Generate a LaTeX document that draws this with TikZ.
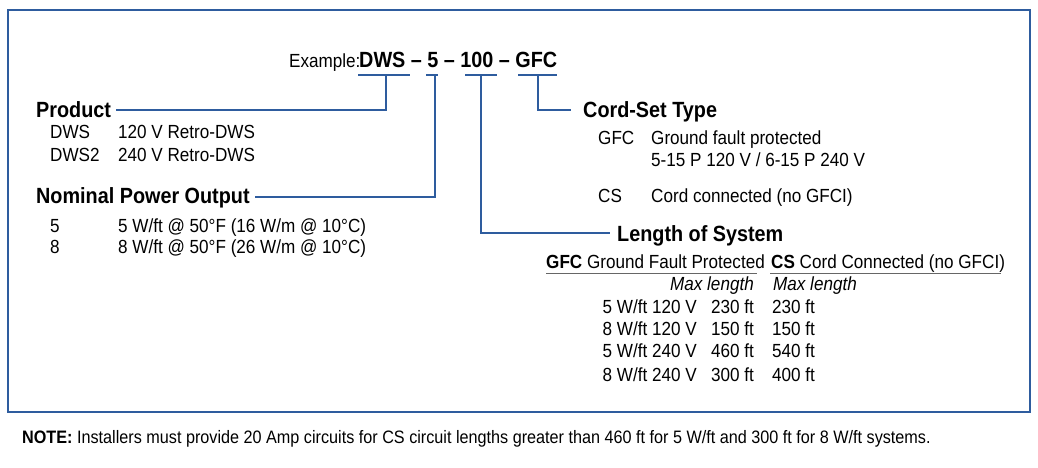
\documentclass[tikz,border=0pt]{standalone}
\usepackage{fontspec}
\setmainfont{Liberation Sans}[FakeStretch=0.9]
\definecolor{blu}{HTML}{2E5C9E}
\begin{document}
\begin{tikzpicture}[x=1pt,y=-1pt,
  t/.style={anchor=base west,inner sep=0pt,font=\fontsize{19}{21}\selectfont},
  tr/.style={anchor=base east,inner sep=0pt,font=\fontsize{19}{21}\selectfont},
  h/.style={anchor=base west,inner sep=0pt,font=\fontsize{22}{24}\selectfont\bfseries},
  ln/.style={draw=blu,line width=1.6pt},
  ul/.style={draw=black!60,line width=0.8pt}]
\useasboundingbox (0,0) rectangle (1038,467);
\draw[blu,line width=1.5pt] (8,10) rectangle (1030,412);
% example
\node[t] (ex) at (289,67) {Example:};
\node[h] (exd) at (359,67) {DWS~– 5~– 100~– GFC};
\coordinate (u1a) at (358,75); \coordinate (u1b) at (410,75);
\coordinate (u2a) at (426,75); \coordinate (u2b) at (438,75);
\coordinate (u3a) at (465,75); \coordinate (u3b) at (497,75);
\coordinate (u4a) at (518,75); \coordinate (u4b) at (557,75);
\draw[ln] (u1a)--(u1b); \draw[ln] (u2a)--(u2b); \draw[ln] (u3a)--(u3b); \draw[ln] (u4a)--(u4b);
% Product
\node[h] (prod) at (36,117) {Product};
\draw[ln] (386,75) |- (116,110);
\node[t] (p1) at (50,138) {DWS}; \node[t] (p1t) at (118,138) {120 V Retro-DWS};
\node[t] (p2) at (50,161) {DWS2}; \node[t] (p2t) at (118,161) {240 V Retro-DWS};
% Nominal
\node[h] (nom) at (36,203) {Nominal Power Output};
\draw[ln] (435,75) |- (255,197);
\node[t] (n1) at (50,232) {5}; \node[t] (n1t) at (118,232) {5 W/ft @ 50°F (16 W/m @ 10°C)};
\node[t] (n2) at (50,253) {8}; \node[t] (n2t) at (118,253) {8 W/ft @ 50°F (26 W/m @ 10°C)};
% Cord set
\node[h] (cord) at (583,117) {Cord-Set Type};
\draw[ln] (538,75) |- (571,110);
\node[t] (c1) at (598,144) {GFC}; \node[t] (c1t) at (651,144) {Ground fault protected};
\node[t] (c1u) at (651,166) {5-15 P 120 V / 6-15 P 240 V};
\node[t] (c2) at (598,202) {CS}; \node[t] (c2t) at (651,202) {Cord connected (no GFCI)};
% Length
\node[h] (len) at (617,241) {Length of System};
\draw[ln] (481,75) |- (610,233);
\node[t] (th1) at (546,268) {\textbf{GFC} Ground Fault Protected};
\node[t] (th2) at (771,268) {\textbf{CS} Cord Connected (no GFCI)};
\coordinate (la) at (546,273); \coordinate (lb) at (757,273);
\coordinate (lc) at (770,273); \coordinate (ld) at (1001,273);
\draw[ul] (la)--(lb); \draw[ul] (lc)--(ld);
\node[tr] (m1) at (754,290) {\itshape Max length};
\node[t] (m2) at (773,290) {\itshape Max length};
\node[tr] (r1a) at (697,313) {5 W/ft 120 V}; \node[tr] (r1b) at (754,313) {230 ft}; \node[t] (r1c) at (772,313) {230 ft};
\node[tr] (r2a) at (697,335) {8 W/ft 120 V}; \node[tr] (r2b) at (754,335) {150 ft}; \node[t] (r2c) at (772,335) {150 ft};
\node[tr] (r3a) at (697,357) {5 W/ft 240 V}; \node[tr] (r3b) at (754,357) {460 ft}; \node[t] (r3c) at (772,357) {540 ft};
\node[tr] (r4a) at (697,381) {8 W/ft 240 V}; \node[tr] (r4b) at (754,381) {300 ft}; \node[t] (r4c) at (772,381) {400 ft};
\node[t,font=\fontsize{18}{20}\selectfont] (note) at (22,443) {\textbf{NOTE:} Installers must provide 20 Amp circuits for CS circuit lengths greater than 460 ft for 5 W/ft and 300 ft for 8 W/ft systems.};
\end{tikzpicture}
\end{document}
